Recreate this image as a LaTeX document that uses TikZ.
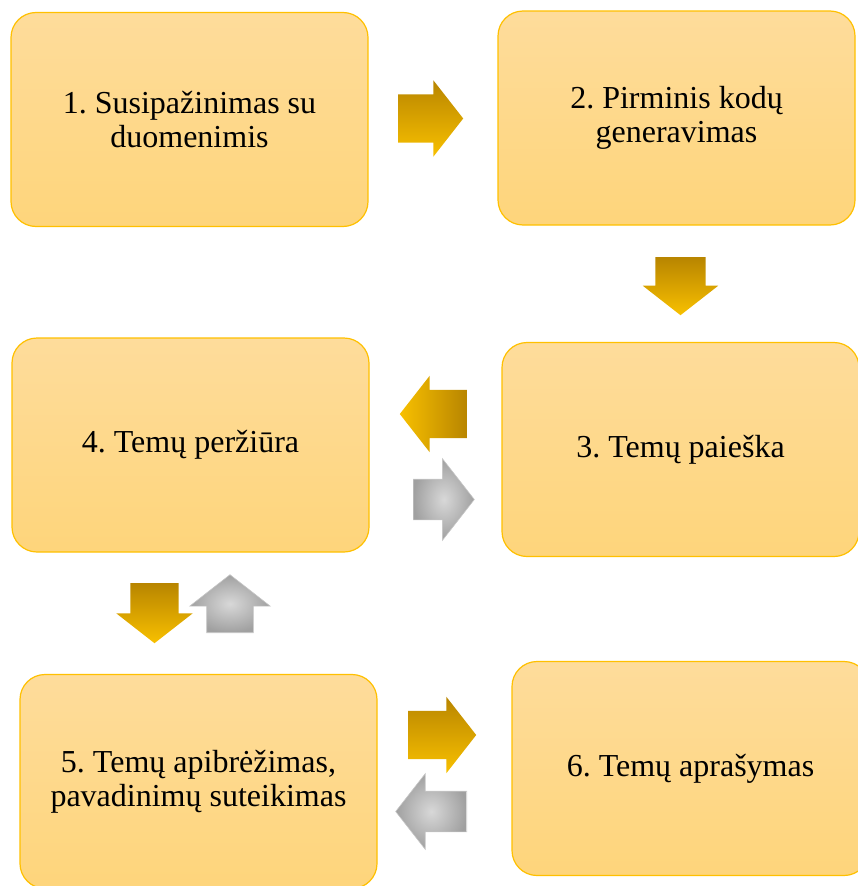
\documentclass[tikz,border=0pt]{standalone}
\usepackage{fontspec}
\setmainfont{Liberation Serif}
\newfontfamily\stagefont{Liberation Serif}
\usepackage{xcolor}
\usetikzlibrary{shapes.arrows}
\definecolor{boxtop}{HTML}{FEDC9B}
\definecolor{boxbottom}{HTML}{FED57B}
\definecolor{boxline}{HTML}{FFC000}
\definecolor{golddark}{HTML}{B88500}
\definecolor{goldlight}{HTML}{F8C000}
\definecolor{greyin}{HTML}{D8D8D8}
\definecolor{greyout}{HTML}{A0A0A0}
\tikzstyle{stage} = [rectangle, rounded corners=25pt, draw=boxline,
                     line width=1.2pt, top color=boxtop, bottom color=boxbottom,
                     minimum width=357pt, minimum height=214pt, align=center,
                     font=\stagefont\fontsize{32}{34}\selectfont]
\tikzstyle{blockarrow} = [single arrow, single arrow tip angle=104,
                          inner xsep=0pt, minimum height=64pt, anchor=tail]
\tikzstyle{forward} = [blockarrow, inner ysep=24pt,
                       single arrow head extend=14pt,
                       top color=golddark, bottom color=goldlight]
\tikzstyle{back} = [blockarrow, inner ysep=20pt, single arrow head extend=19pt,
                    inner color=greyin, outer color=greyout,
                    draw=greyout!60!white, line width=0.6pt]

\begin{document}
\frenchspacing
\begin{tikzpicture}[x=1pt, y=-1pt]
\useasboundingbox (0,0) rectangle (857,886);
\node [stage] at (189.5,119.5) (susipazinimas)
	{1. Susipažinimas su\\duomenimis};
\node [stage] at (676.5,118) (kodai) {2. Pirminis kodų\\generavimas};
\node [stage] at (680.5,449.5) (paieska) {3. Temų paieška};
\node [stage] at (190.5,445) (perziura) {4. Temų peržiūra};
\node [stage] at (198.5,781.5) (apibrezimas)
	{5. Temų apibrėžimas,\\pavadinimų suteikimas};
\node [stage] at (690.5,768.5) (aprasymas) {6. Temų aprašymas};
\node [forward, minimum height=65pt] at (398,118.5) (arr_1_2) {};
\node [forward, rotate=-90, minimum height=58pt, inner ysep=25pt,
	single arrow head extend=12.5pt] at (680.5,257) (arr_2_3) {};
\node [forward, rotate=180, minimum height=67pt, left color=goldlight,
	right color=golddark] at (467,414) (arr_3_4) {};
\node [back, minimum height=61pt, single arrow head extend=20.5pt]
	at (413,499.5) (arr_4_3) {};
\node [forward, rotate=-90, minimum height=60pt] at (154.5,583) (arr_4_5) {};
\node [back, rotate=90, minimum height=58pt, inner ysep=23pt,
	single arrow head extend=17pt] at (230,633) (arr_5_4) {};
\node [forward, minimum height=68pt] at (408,735) (arr_5_6) {};
\node [back, rotate=180, minimum height=71pt, single arrow head extend=17.5pt]
	at (467,811.5) (arr_6_5) {};
\end{tikzpicture}
\end{document}
